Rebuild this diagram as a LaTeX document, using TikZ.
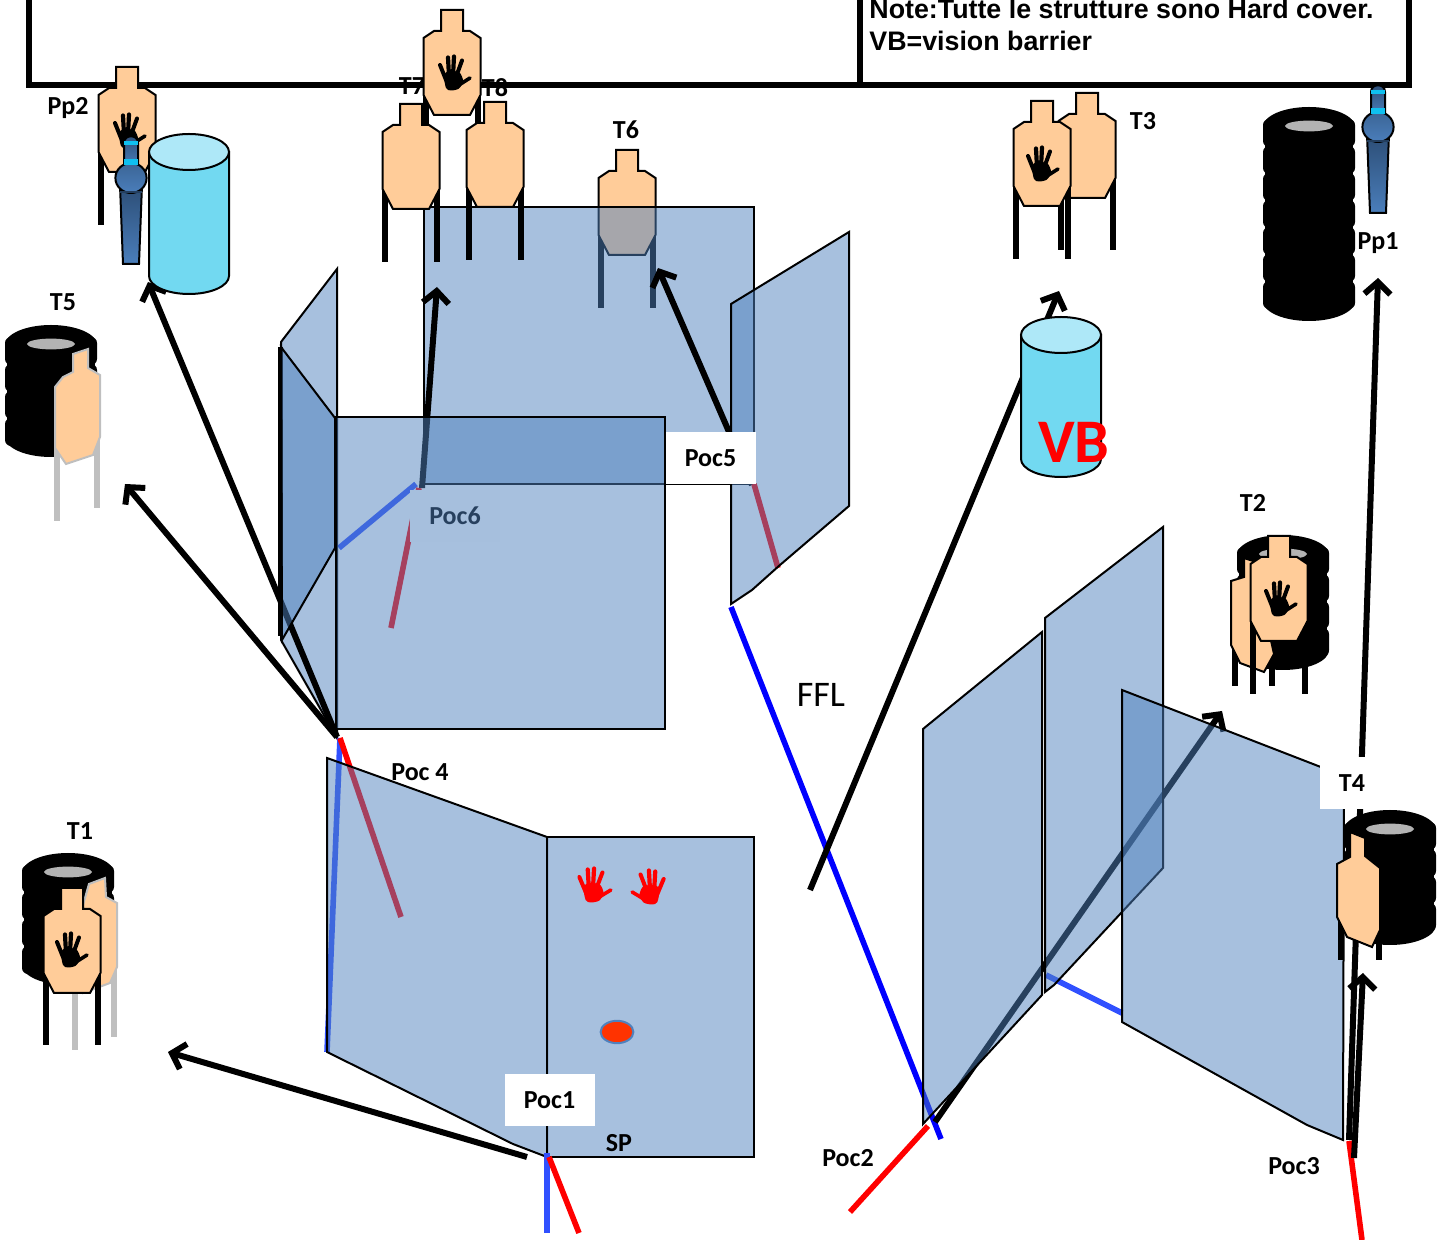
\documentclass[tikz,border=0pt]{standalone}
\usepackage{fontspec}
\setmainfont{Carlito}
\newfontfamily\notefont{Liberation Sans}
\usetikzlibrary{arrows.meta}
\definecolor{panelblue}{HTML}{4F81BD}
\definecolor{targetorange}{HTML}{FFCC99}
\definecolor{cylbody}{HTML}{72D9F1}
\definecolor{cyltop}{HTML}{AEE8F8}
\definecolor{softblue}{HTML}{3050FF}
\definecolor{polecyan}{HTML}{0FC0F0}
\definecolor{poledark}{HTML}{2C4D75}
\definecolor{polelight}{HTML}{4A7EBB}
\definecolor{stackgray}{HTML}{BFBFBF}
\definecolor{holegray}{HTML}{B3B3B3}
\tikzset{
  panel/.style={draw=black,line width=1pt,fill=panelblue,fill opacity=.5,line join=miter},
  lbl/.style={font=\fontsize{13}{15}\selectfont\bfseries,inner sep=0pt},
  whitebox/.style={lbl,fill=white,minimum width=45pt,minimum height=26pt},
  arrowline/.style={line width=3pt,-{Straight Barb[length=6pt,width=13pt]}},
  thinline/.style={line width=2.8pt},
  legline/.style={line width=2.8pt},
  bodyline/.style={draw=black,line width=1pt,line join=miter},
}
% target silhouette: centre x, top y, leg end (relative), outline colour
\newcommand{\targetshape}[4]{%
  \begin{scope}[shift={(#1,#2)}]
    \draw[legline,#4] (-26,84) -- (-26,#3);
    \draw[legline,#4] (26,84) -- (26,#3);
    \draw[bodyline,draw=#4,fill=targetorange] (-11,0) -- (11,0) -- (11,21) -- (18,21) -- (28.5,28) -- (28.5,85) -- (18,105) -- (-18,105) -- (-28.5,85) -- (-28.5,28) -- (-18,21) -- (-11,21) -- cycle;
  \end{scope}}
% hand: x, y, colour, xscale
\newcommand{\handmark}[4]{%
  \begin{scope}[shift={(#1,#2)},xscale=#4]
    \draw[#3,line width=2pt,line cap=round] (-13,-8) -- (-7,7);
    \draw[#3,line width=2.1pt,line cap=round] (-5,-15.5) -- (-4,3);
    \draw[#3,line width=2.1pt,line cap=round] (1,-16.5) -- (0,3);
    \draw[#3,line width=2pt,line cap=round] (9,-12.5) -- (3,4);
    \draw[#3,line width=1.8pt,line cap=round] (17,5) -- (6,12);
    \fill[#3] plot[smooth cycle] coordinates {(-9,2) (-4,-2) (1,-2) (7,0) (10,8) (6,15.5) (-2,17.5) (-7,15)};
  \end{scope}}
% tyre stack: cx, top, bottom, last tier index
\newcommand{\tirestack}[4]{%
  \fill[black] (#1,#2+20) ellipse [x radius=23pt,y radius=10pt];
  \fill[black] (#1,#3-20) ellipse [x radius=23pt,y radius=10pt];
  \foreach \k in {0,...,#4} {
    \fill[black,rounded corners=3pt] ({#1-46},{#2+12+\k*27}) rectangle ({#1+46},{#2+40+\k*27});
  }
  \fill[black] ({#1-44},{#2+20}) rectangle ({#1+44},{#3-20});
  \fill[holegray] (#1,#2+19) ellipse [x radius=12pt,y radius=2.7pt];}
% cylinder: cx, top, bottom
\newcommand{\barrel}[3]{%
  \draw[bodyline,fill=cylbody] ({#1-40},{#2+18}) -- ({#1-40},{#3-18}) arc[start angle=180,end angle=360,x radius=20pt,y radius=9pt] -- ({#1+40},{#2+18}) -- cycle;
  \draw[bodyline,fill=cyltop] (#1,#2+18) ellipse [x radius=20pt,y radius=9pt];}
% bottle-shaped pole: cx, top
\newcommand{\popper}[2]{%
  \begin{scope}[shift={(#1,#2)}]
    \draw[bodyline,top color=poledark,bottom color=polelight] (-11,50) -- (-8,129) -- (8,129) -- (11,50) -- cycle;
    \draw[bodyline,top color=poledark,bottom color=polelight] (-7,32) -- (-7,8) .. controls (-7,-1) and (7,-1) .. (7,8) -- (7,32) -- cycle;
    \draw[bodyline,top color=polelight!80!black,bottom color=polelight] (0,43) ellipse [x radius=7.8pt,y radius=7.5pt];
    \draw[line width=1pt,draw=poledark!80!black] (-11,57) -- (11,57);
    \fill[polecyan] (-7,6) rectangle (7,10);
    \fill[polecyan] (-7,24) rectangle (7,30);
  \end{scope}}
\begin{document}
\begin{tikzpicture}[x=.5pt,y=-.5pt]
\useasboundingbox (0,0) rectangle (1437,1240);
\clip (0,0) rectangle (1437,1240);
% frame
\draw[line width=3pt,line join=miter] (29,-10) -- (29,85) -- (1409,85) -- (1409,-10);
\draw[line width=3pt] (860,-10) -- (860,85);
\node[anchor=base west,inner sep=0pt,font=\notefont\fontsize{13.4}{16}\selectfont\bfseries] (noteA) at (869,19) {Note:Tutte le strutture sono Hard cover.};
\node[anchor=base west,inner sep=0pt,font=\notefont\fontsize{13.4}{16}\selectfont\bfseries] (noteB) at (869,51) {VB=vision barrier};
% labels behind targets
\node[lbl] (lT7) at (412,86) {T7};
\node[lbl] (lT8) at (495,88) {T8};
% back panel group
\targetshape{627}{150}{158}{black}
\node[lbl] (lT6) at (626,130) {T6};
\draw[panel] (424,207) rectangle (754,484);
\targetshape{452}{10}{125}{black}
\handmark{453}{73}{black}{1}
\targetshape{411}{104}{158}{black}
\targetshape{495}{102}{158}{black}
% connectors under front panels
\coordinate (footSix) at (422,488);
\coordinate (tipSeven) at (437,287);
\coordinate (footFive) at (752,485);
\coordinate (tipSix) at (658,268);
\draw[arrowline] (footSix) -- (tipSeven);
\draw[arrowline] (footFive) -- (tipSix);
\draw[thinline,softblue] (339,548) -- (416,484);
\draw[thinline,red] (419,488) -- (391,628);
\node[whitebox,text=black] (lPoc6) at (455,516) {Poc6};
\draw[thinline,red] (754,484) -- (778,568);
% left panels
\draw[panel] (281,342) -- (337,269) -- (337,738) -- (281,640) -- cycle;
\coordinate (cornerL) at (337,737);
\coordinate (tipPp2) at (148,282);
\coordinate (tipT5) at (125,484);
\draw[arrowline] (cornerL) -- (tipPp2);
\draw[arrowline] (cornerL) -- (tipT5);
\draw[line width=2.5pt] (280,347) -- (280,636);
\draw[panel] (281,347) -- (335,418) -- (335,548) -- (282,640) -- cycle;
\draw[panel] (336,417) rectangle (665,729);
% right panel beyond back
\draw[panel] (731,304) -- (849,232) -- (849,506) -- (780,565) -- (752,590) -- (731,604) -- cycle;
\node[whitebox] (lPoc5) at (710.5,458) {Poc5\hspace{2pt}};
% start bay
\draw[thinline,softblue] (340,738) -- (327,1052);
\draw[thinline,red] (340,738) -- (401,917);
\draw[panel] (327,758) -- (547,837) -- (547,1157) -- (513,1144) -- (327,1052) -- cycle;
\draw[panel] (547,837) rectangle (754,1157);
\handmark{593}{885}{red}{1.05}
\handmark{650}{887}{red}{-1.05}
\draw[line width=1pt,draw=panelblue,fill=red!80!yellow] (617,1032) ellipse [x radius=8.2pt,y radius=5.6pt];
\node[lbl] (lPoc4) at (420,772) {Poc 4};
\node[lbl] (lSP) at (619,1143) {SP};
\coordinate (footOne) at (527,1157);
\coordinate (tipT1) at (168,1052);
\draw[arrowline] (footOne) -- (tipT1);
\node[whitebox] (lPoc1) at (549.5,1100) {Poc1};
\draw[line width=3pt,softblue] (547,1153) -- (547,1233);
\draw[thinline,red] (549,1157) -- (579,1233);
% FFL line and arrow
\draw[thinline,blue] (731,607) -- (941,1139);
\node[inner sep=0pt,font=\fontsize{18}{20}\selectfont] (lFFL) at (821,695) {FFL};
\coordinate (footVB) at (810,890);
\coordinate (tipVB) at (1059,291);
\draw[arrowline] (footVB) -- (tipVB);
\barrel{1061}{317}{477}
\node[inner sep=0pt,text=red,font=\fontsize{31}{34}\selectfont\bfseries] (lVB) at (1074,442) {VB};
% right panels
\coordinate (footTwo) at (935,1122);
\coordinate (tipT2) at (1222,711);
\draw[arrowline] (footTwo) -- (tipT2);
\draw[thinline,red] (850,1212) -- (928,1126);
\draw[thinline,softblue] (1046,975) -- (1122,1013);
\draw[panel] (923,729) -- (1042,632) -- (1042,995) -- (923,1124) -- cycle;
\draw[panel] (1045,618) -- (1163,527) -- (1163,868) -- (1054,985) -- (1045,992) -- cycle;
\draw[panel] (1122,690) -- (1344,776) -- (1343,1140) -- (1307,1125) -- (1122,1022) -- cycle;
\node[lbl] (lPoc2) at (848,1158) {Poc2};
\node[lbl] (lPoc3) at (1294,1166) {Poc3};
% Poc3 connectors
\coordinate (footThree) at (1349,1140);
\coordinate (tipPp1) at (1378,278);
\coordinate (footThreeB) at (1354,1158);
\coordinate (tipT4) at (1363,973);
\draw[thinline,red] (1349,1141) -- (1362,1240);
\draw[arrowline] (footThree) -- (tipPp1);
\draw[arrowline] (footThreeB) -- (tipT4);
\node[whitebox,minimum width=29pt] (lT4) at (1349,783) {\hspace{3pt}T4};
% T4
\tirestack{1390}{810}{945}{3}
\draw[legline] (1341,915) -- (1341,960);
\draw[legline] (1379,925) -- (1379,960);
\draw[bodyline,fill=targetorange] (1350,832) -- (1365,838) -- (1365,856) -- (1380,868) -- (1380,930) -- (1372,947) -- (1347,937) -- (1337,917) -- (1337,864) -- (1350,857) -- cycle;
% T2
\node[lbl] (lT2) at (1253,503) {T2};
\tirestack{1283}{535}{670}{3}
\draw[legline] (1235,640) -- (1235,686);
\draw[legline] (1272,650) -- (1272,686);
\draw[bodyline,fill=targetorange] (1244,558) -- (1256,562) -- (1256,580) -- (1262,600) -- (1274,654) -- (1264,672) -- (1240,663) -- (1231,645) -- (1231,581) -- (1244,577) -- cycle;
\targetshape{1279}{536}{158}{black}
\handmark{1279}{599}{black}{1}
% T3
\node[lbl] (lT3) at (1143,121) {T3};
\targetshape{1087}{93}{157}{black}
\targetshape{1042}{101}{158}{black}
\handmark{1041}{164}{black}{1}
% Pp1
\tirestack{1309}{107}{321}{6}
\popper{1378}{84}
\node[lbl] (lPp1) at (1378,243) {Pp1};
% Pp2
\node[lbl] (lPp2) at (68,108) {Pp2};
\targetshape{127}{67}{158}{black}
\handmark{128}{131}{black}{1}
\barrel{189}{134}{294}
\popper{131}{135}
% T5
\node[lbl] (lT5) at (63,302) {T5};
\tirestack{51}{325}{457}{3}
\draw[legline,stackgray] (57,448) -- (57,521);
\draw[legline,stackgray] (97,430) -- (97,508);
\draw[bodyline,draw=stackgray,fill=targetorange] (73,354) -- (88,349) -- (88,368) -- (100,375) -- (100,437) -- (93,455) -- (66,464) -- (55,448) -- (55,387) -- (63,377) -- (73,372) -- cycle;
% T1
\node[lbl] (lT1) at (80,831) {T1};
\tirestack{68}{853}{985}{3}
\draw[legline,stackgray] (75,985) -- (75,1050);
\draw[legline,stackgray] (114,960) -- (114,1037);
\draw[bodyline,draw=stackgray,fill=targetorange] (89,884) -- (105,878) -- (106,897) -- (117,903) -- (117,967) -- (110,983) -- (83,993) -- (83,905) -- cycle;
\targetshape{72}{888}{157}{black}
\handmark{70}{950}{black}{1}
\end{tikzpicture}
\end{document}
